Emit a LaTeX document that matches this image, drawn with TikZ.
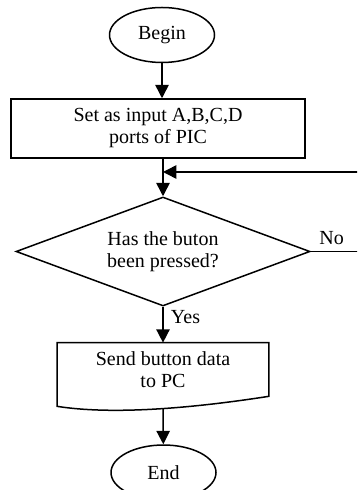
\documentclass[tikz,border=0pt]{standalone}
\usepackage{fontspec}
\setmainfont{Liberation Serif}
\usetikzlibrary{shapes.geometric, arrows.meta, calc}

\begin{document}
\begin{tikzpicture}[x=0.6pt, y=-0.6pt,
    thickline/.style={line width=0.9pt},
    arr/.style={thickline, -{Triangle[length=8pt,width=8pt]}},
    term/.style={draw, thickline, ellipse, minimum width=63pt, minimum height=33pt, inner sep=0pt},
    proc/.style={draw, thickline, rectangle, minimum width=176.4pt, minimum height=35.4pt, align=center, inner sep=0pt},
    decision/.style={draw, thickline, diamond, shape aspect=2.7, minimum width=176.4pt, minimum height=65.4pt, align=center, inner sep=0pt},
    docum/.style={minimum width=126.6pt, minimum height=31.8pt, align=center, inner sep=0pt},
    font=\fontsize{12}{13.2}\selectfont]

    % page frame, the loop and the End ellipse run off it
    \path[use as bounding box] (0,0) rectangle (357,490);
    \clip (0,0) rectangle (357,490);

    \node[term] (begin) at (162,35) {Begin};
    \node[proc] (init) at (158,128.5) {Set as input A,B,C,D\\ports of PIC};
    \node[decision] (dec) at (163,251.5) {Has the buton\\been pressed?};
    \node[docum] (send) at (163,369.5) {Send button data\\to PC};
    \node[term] (end) at (163.5,472.5) {End};

    % document shape with wavy bottom
    \draw[thickline] (send.north west) -- (send.north east) -- (send.south east)
        .. controls ($(send.south east)+(-58,9)$) and ($(send.south west)+(63,20)$) .. ($(send.south west)+(0,10)$) -- cycle;

    \coordinate (merge) at (163,172);
    \coordinate (loop) at (380,172);
    \coordinate (sendout) at ($(send.south)+(0,12)$);

    \draw[arr] (begin) -- (begin |- init.north);
    \draw[arr] (init.south -| dec.north) -- (dec.north);
    \draw[arr] (dec.east) -| node[pos=0.15, above] {No} (loop) -- (merge);
    \draw[arr] (dec.south) -- node[pos=0.3, right, xshift=1pt] {Yes} (send.north);
    \draw[arr] (sendout) -- (end);
\end{tikzpicture}
\end{document}
